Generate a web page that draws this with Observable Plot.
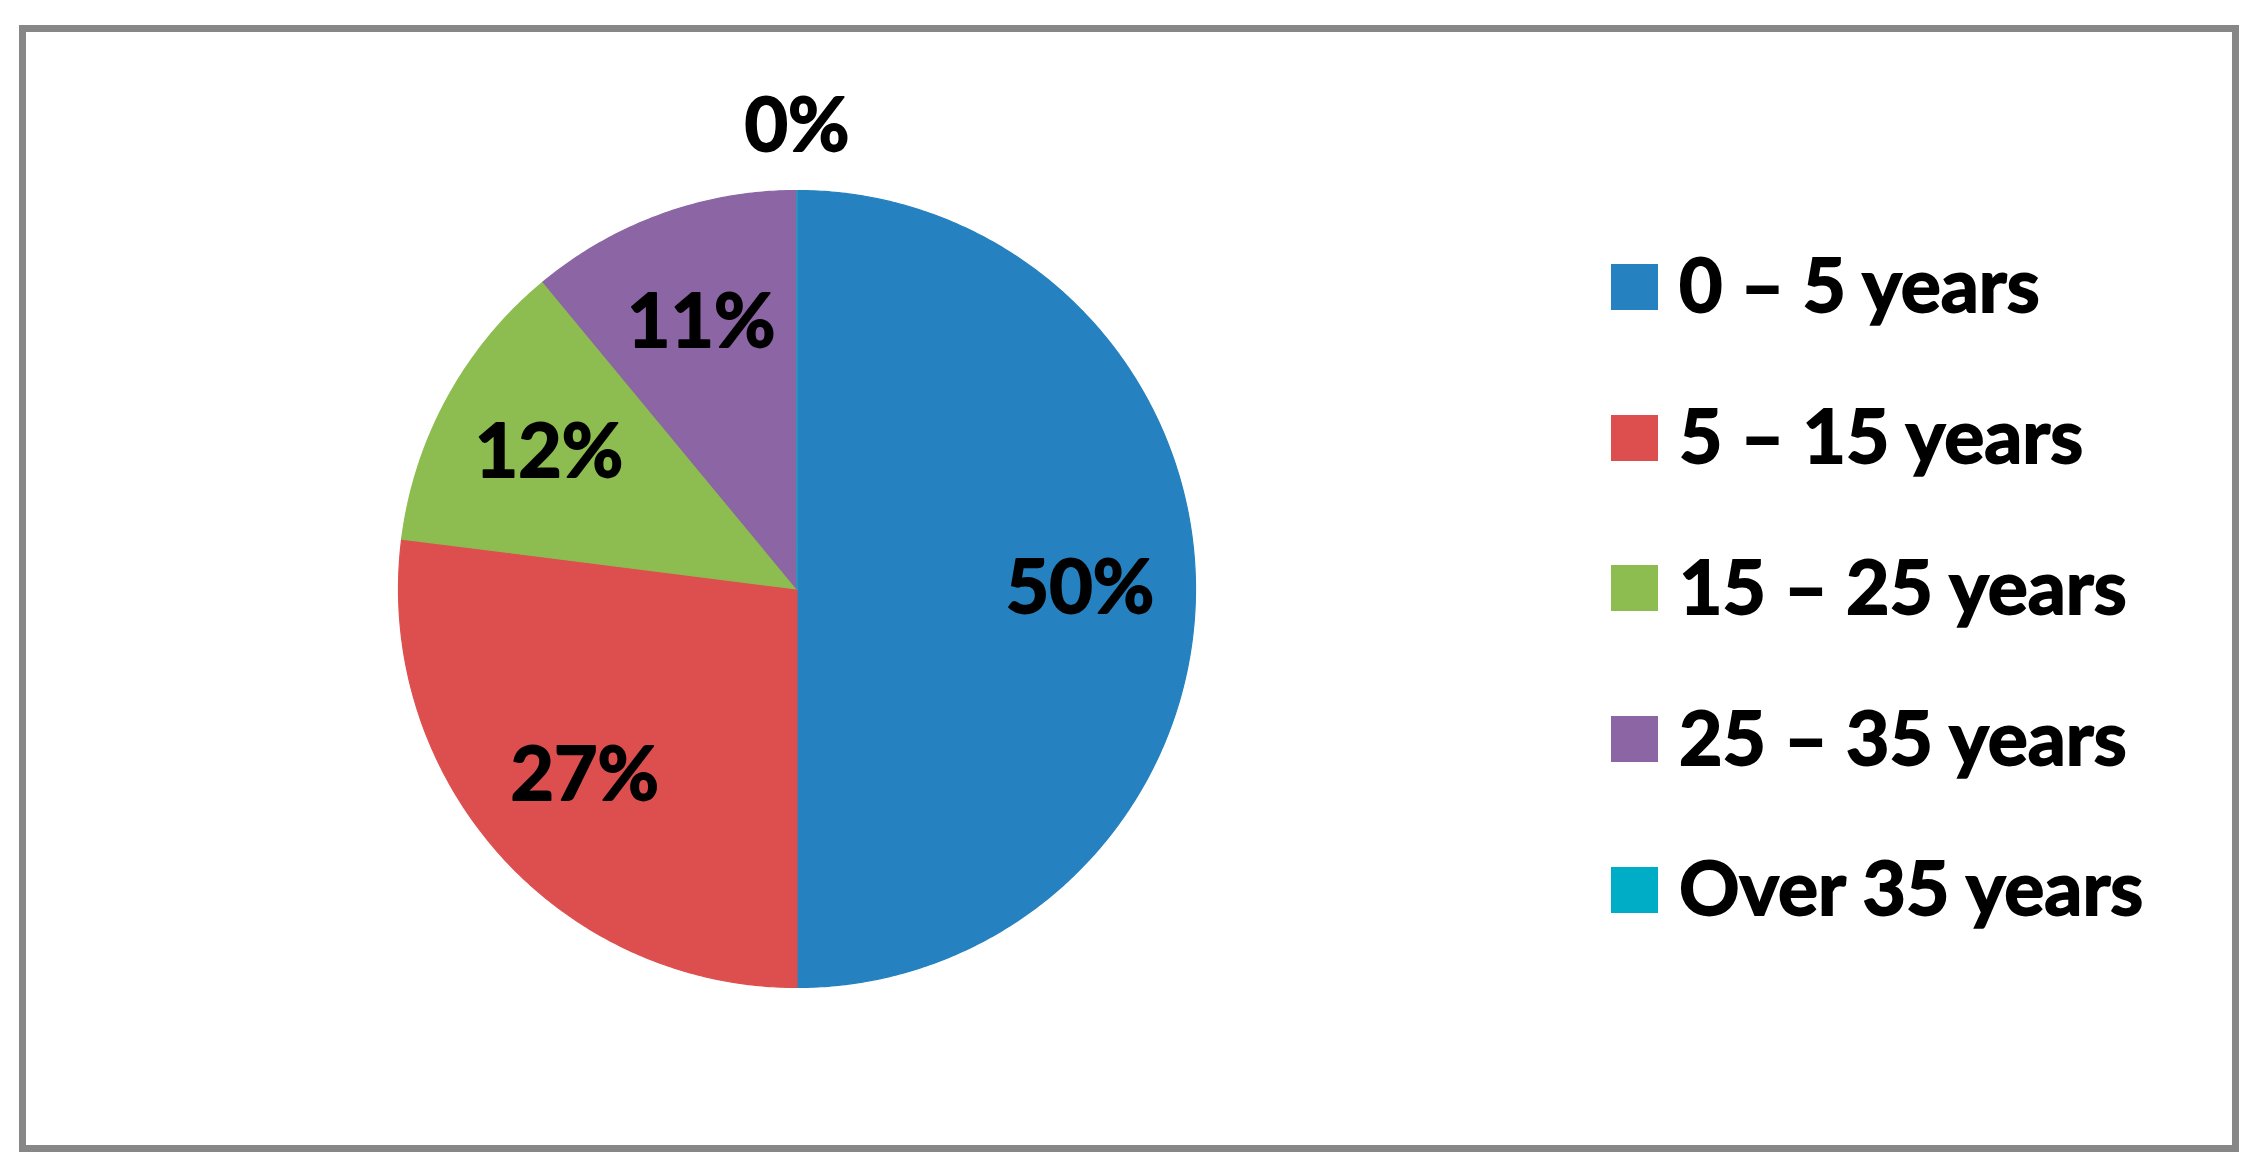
<!DOCTYPE html>
<html><head><meta charset="utf-8">
<script src="https://cdn.jsdelivr.net/npm/d3@7"></script>
<script src="https://cdn.jsdelivr.net/npm/@observablehq/plot@0.6"></script>
<style>
html,body{margin:0;padding:0;background:#fff;}
#wrap{position:relative;width:2260px;height:1174px;overflow:hidden;font-family:Lato,"Open Sans",sans-serif;}
#frame{position:absolute;left:19px;top:25px;width:2220px;height:1127px;box-sizing:border-box;border:7.5px solid #878787;}
#chart{position:absolute;left:0;top:0;}
#legend{position:absolute;left:1611px;top:211.6px;}
.row{display:flex;align-items:center;height:150.75px;}
.sw{width:47px;height:46px;margin-right:21px;flex:none;}
.lb{font-size:75px;font-weight:700;line-height:1;color:#000;white-space:nowrap;position:relative;top:-3px;-webkit-text-stroke:1.8px #000;}
</style></head>
<body><div id="wrap"><div id="frame"></div><div id="chart"></div><div id="legend"></div></div>
<script>
const categories = ["0 – 5 years", "5 – 15 years", "15 – 25 years", "25 – 35 years", "Over 35 years"];
const values = [50, 27, 12, 11, 0];
const valueLabels = ["50%", "27%", "12%", "11%", "0%"];
const colors = ["#2581BF", "#DD4F4F", "#8DBC50", "#8B65A4", "#00ADC7"];

const W = 2260, H = 1174, CX = 796.5, CY = 588.5, R = 398.5;

const arcs = d3.pie().sort(null).value(d => d)(values);
const slices = [];
arcs.forEach((a, i) => {
  const n = Math.max(2, Math.ceil((a.endAngle - a.startAngle) / (Math.PI / 360)));
  slices.push({cat: categories[i], px: 0, py: 0});
  for (let k = 0; k <= n; k++) {
    const t = a.startAngle + (a.endAngle - a.startAngle) * k / n;
    slices.push({cat: categories[i], px: Math.sin(t), py: Math.cos(t)});
  }
});
const labels = arcs.map((a, i) => {
  const m = (a.startAngle + a.endAngle) / 2;
  const f = values[i] < 1 ? 1.16 : 0.71;
  return {text: valueLabels[i], px: f * Math.sin(m), py: f * Math.cos(m)};
});

const chart = Plot.plot({
  width: W, height: H,
  margin: 0,
  x: {domain: [-CX / R, (W - CX) / R], range: [0, W], axis: null},
  y: {domain: [(CY - H) / R, CY / R], range: [H, 0], axis: null},
  color: {domain: categories, range: colors},
  style: {background: "transparent", overflow: "visible"},
  marks: [
    Plot.line(slices, {x: "px", y: "py", z: "cat", fill: "cat", stroke: "cat", strokeWidth: 1.2, curve: "linear-closed"}),
    Plot.text(labels, {x: "px", y: "py", text: "text", fontSize: 75, fontWeight: "bold", fontFamily: "Lato", fill: "black", stroke: "black", strokeWidth: 1.8})
  ]
});
document.getElementById("chart").appendChild(chart);

const legend = document.getElementById("legend");
categories.forEach((c, i) => {
  const row = document.createElement("div");
  row.className = "row";
  const sw = document.createElement("div");
  sw.className = "sw";
  sw.style.background = colors[i];
  const lb = document.createElement("span");
  lb.className = "lb";
  lb.textContent = c;
  row.appendChild(sw); row.appendChild(lb);
  legend.appendChild(row);
});
</script>
</body></html>
